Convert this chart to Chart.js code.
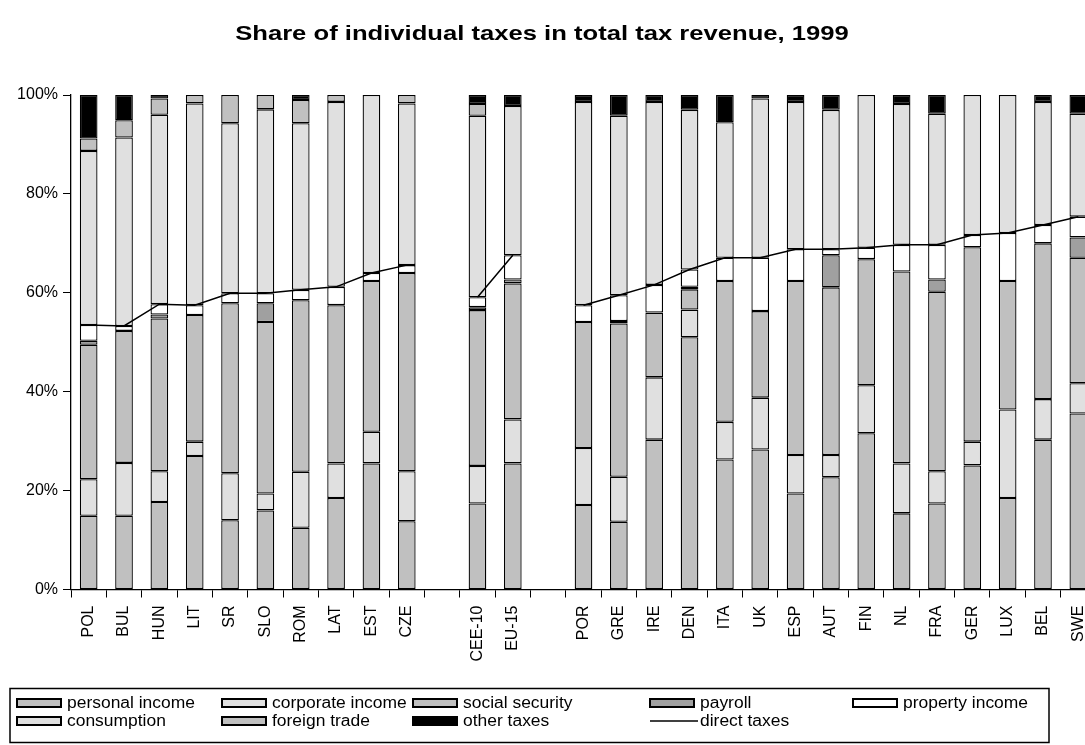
<!DOCTYPE html>
<html>
<head>
<meta charset="utf-8">
<script src="https://cdn.jsdelivr.net/npm/chart.js@4.4.1/dist/chart.umd.min.js"></script>
<style>
  html, body { margin: 0; padding: 0; background: #fff; overflow: hidden; }
  #wrap { width: 1085px; height: 745px; overflow: hidden; }
  canvas { display: block; }
</style>
</head>
<body>
<div id="wrap"><canvas id="taxChart" width="1110" height="745"></canvas></div>
<script>
// blank labels keep the spacing between the country groups
const countries = ['POL','BUL','HUN','LIT','SR','SLO','ROM','LAT','EST','CZE','',
  'CEE-10','EU-15','',
  'POR','GRE','IRE','DEN','ITA','UK','ESP','AUT','FIN','NL','FRA','GER','LUX','BEL','SWE'];

// % of total tax revenue
const personalIncome  = [14.9,14.9,17.7,27.0,14.0,16.0,12.5,18.5,25.5,13.8,null,17.4,25.5,null,17.1,13.7,30.3,51.0,26.3,28.3,19.4,22.7,31.6,15.4,17.4,25.1,18.5,30.3,35.6];
const corporateIncome = [7.4,10.7,6.2,2.9,9.5,3.4,11.3,7.0,6.4,10.1,null,7.6,8.9,null,11.5,9.1,12.6,5.6,7.6,10.5,7.8,4.5,9.7,10.1,6.5,4.8,17.9,8.2,6.1];
const socialSecurity  = [27.2,26.7,30.9,25.6,34.4,34.7,34.7,32.0,30.5,40.1,null,31.5,27.5,null,25.5,31.0,13.1,4.1,28.5,17.5,35.2,33.9,25.5,38.8,36.3,39.3,26.0,31.5,25.4];
const payroll         = [0.8,0,0.8,0,0,3.8,0,0,0,0,null,0.6,0.8,null,0,0.5,0,0.5,0,0,0,6.5,0,0,2.5,0,0,0,4.1];
const propertyIncome  = [3.2,1.0,2.1,2.0,2.0,2.0,2.1,3.7,1.6,1.6,null,2.0,4.9,null,3.4,5.2,5.6,3.5,4.7,10.8,6.4,1.2,2.3,5.4,7.0,2.5,9.7,3.7,4.2];
const consumption     = [35.2,38.1,38.3,40.8,34.4,37.2,33.7,37.4,36.0,32.7,null,36.7,30.2,null,41.1,36.3,37.0,32.3,27.4,32.2,29.8,28.2,30.9,28.5,26.5,28.3,27.9,24.9,20.8];
const foreignTrade    = [2.5,3.5,3.3,1.7,5.7,2.9,4.7,1.4,0,1.7,null,2.4,0,null,0,0,0,0,0,0,0,0,0,0,0,0,0,0,0];
const otherTaxes      = [8.8,5.1,0.7,0,0,0,1.0,0,0,0,null,1.8,2.2,null,1.4,4.2,1.4,3.0,5.5,0.7,1.4,3.0,0,1.8,3.8,0,0,1.4,3.8];
const directTaxes     = [53.5,53.3,57.7,57.5,59.9,59.9,60.6,61.2,64.0,65.6,null,59.1,67.6,null,57.5,59.5,61.6,64.7,67.1,67.1,68.8,68.8,69.1,69.7,69.7,71.7,72.1,73.7,75.4];

const yTicks = [0, 20, 40, 60, 80, 100];

const FONT = '"Liberation Sans", Arial, sans-serif';
Chart.defaults.font.family = FONT;
Chart.defaults.color = '#000';

function bar(label, data, color) {
  return {
    type: 'bar', label: label, data: data, stack: 'taxes', order: 1,
    backgroundColor: color, borderColor: '#000', borderWidth: 1.3,
    borderSkipped: false, inflateAmount: 0,
    barPercentage: 0.5, categoryPercentage: 1
  };
}

// text drawn a little wider than the font, like the old Excel export
function wideText(ctx, text, x, y, sx) {
  ctx.save();
  ctx.translate(x, y);
  ctx.scale(sx, 1);
  ctx.fillText(text, 0, 0);
  ctx.restore();
}

// title and boxed legend are drawn by hand, Excel style
const decorations = {
  id: 'decorations',
  afterDraw(chart, args, opts) {
    const ctx = chart.ctx;
    ctx.save();
    ctx.fillStyle = '#000';
    ctx.font = 'bold 21px ' + FONT;
    ctx.textAlign = 'center';
    ctx.textBaseline = 'middle';
    wideText(ctx, opts.title, opts.titleX, opts.titleY, 1.22);

    ctx.strokeStyle = '#000';
    ctx.lineWidth = 1.5;
    ctx.strokeRect(opts.box.left, opts.box.top, opts.box.width, opts.box.height);

    ctx.font = '16px ' + FONT;
    ctx.textAlign = 'left';
    chart.data.datasets.forEach((ds, i) => {
      const x = opts.columns[i % opts.columns.length];
      const y = opts.rows[Math.floor(i / opts.columns.length)];
      if (ds.type === 'line') {
        ctx.lineWidth = 1.5;
        ctx.beginPath();
        ctx.moveTo(x, y);
        ctx.lineTo(x + 48, y);
        ctx.stroke();
      } else {
        ctx.fillStyle = ds.backgroundColor;
        ctx.fillRect(x, y - 4, 44, 8);
        ctx.lineWidth = 2;
        ctx.strokeRect(x, y - 4, 44, 8);
      }
      ctx.fillStyle = '#000';
      wideText(ctx, ds.label, x + 50, y + 1, 1.09);
    });
    ctx.restore();
  }
};

new Chart(document.getElementById('taxChart'), {
  data: {
    labels: countries,
    datasets: [
      bar('personal income', personalIncome, '#c0c0c0'),
      bar('corporate income', corporateIncome, '#e0e0e0'),
      bar('social security', socialSecurity, '#c0c0c0'),
      bar('payroll', payroll, '#a0a0a0'),
      bar('property income', propertyIncome, '#ffffff'),
      bar('consumption', consumption, '#e0e0e0'),
      bar('foreign trade', foreignTrade, '#c0c0c0'),
      bar('other taxes', otherTaxes, '#000000'),
      {
        type: 'line', label: 'direct taxes', data: directTaxes, stack: 'direct', order: 0,
        borderColor: '#000', borderWidth: 1.5, pointRadius: 0, spanGaps: false,
        tension: 0, fill: false
      }
    ]
  },
  options: {
    responsive: false,
    animation: false,
    layout: { padding: { top: 95, left: 0, right: 14, bottom: 0 } },
    plugins: {
      legend: { display: false },
      title: { display: false },
      tooltip: { enabled: false },
      decorations: {
        title: 'Share of individual taxes in total tax revenue, 1999',
        titleX: 542, titleY: 34,
        box: { left: 10, top: 688.5, width: 1039, height: 54 },
        columns: [17, 222, 413, 650, 853],
        rows: [703, 721]
      }
    },
    scales: {
      x: {
        stacked: true,
        offset: true,
        grid: { offset: true, drawOnChartArea: false, drawTicks: true, tickLength: 8, color: '#000', lineWidth: 1 },
        border: { display: true, color: '#000', width: 1.3 },
        ticks: { autoSkip: false, minRotation: 90, maxRotation: 90, padding: 8, font: { size: 16 }, color: '#000' },
        afterFit(scale) { scale.height = 745 - 589.5; }
      },
      y: {
        stacked: true,
        min: 0, max: 100,
        afterBuildTicks(scale) { scale.ticks = yTicks.map(v => ({ value: v })); },
        grid: { drawOnChartArea: false, drawTicks: true, tickLength: 8, color: '#000', lineWidth: 1 },
        border: { display: true, color: '#000', width: 1.3 },
        ticks: { padding: 5, font: { size: 16 }, color: '#000', callback: v => v + '%' },
        afterFit(scale) { scale.width = 71; }
      }
    }
  },
  plugins: [decorations]
});
</script>
</body>
</html>
